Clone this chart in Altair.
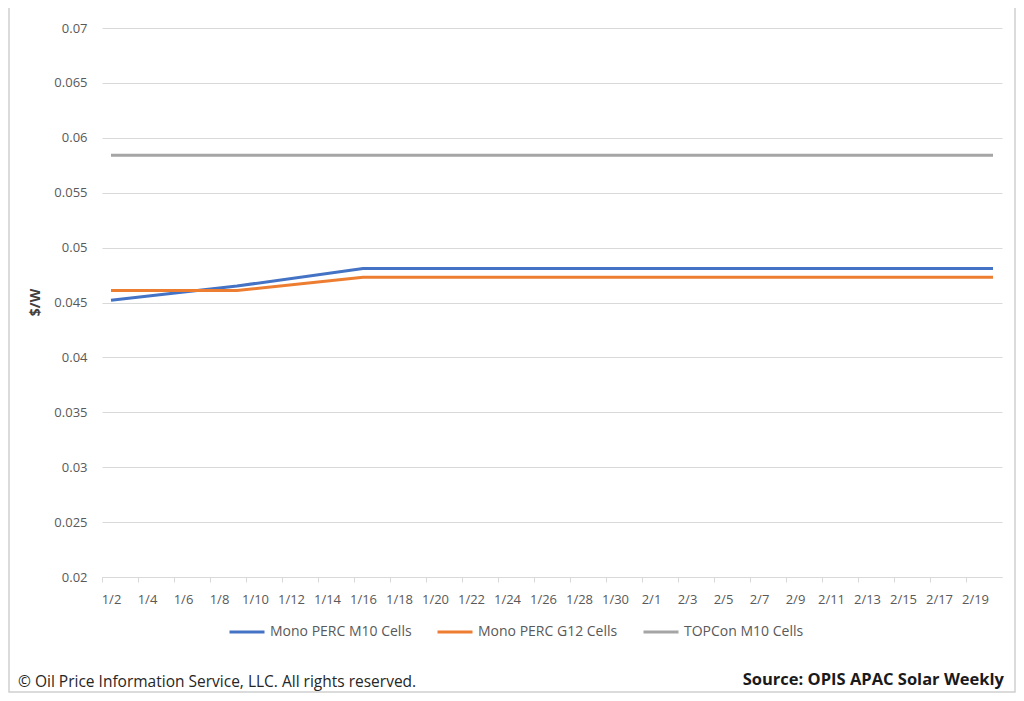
import altair as alt
import pandas as pd

# ---- data ----
weeks = ["1/2", "1/9", "1/16", "1/23", "1/30", "2/6", "2/13", "2/20"]
mono_perc_m10 = [0.0452, 0.0465, 0.0481, 0.0481, 0.0481, 0.0481, 0.0481, 0.0481]
mono_perc_g12 = [0.0461, 0.0461, 0.0473, 0.0473, 0.0473, 0.0473, 0.0473, 0.0473]
topcon_m10 = [0.0584, 0.0584, 0.0584, 0.0584, 0.0584, 0.0584, 0.0584, 0.0584]

series_names = ["Mono PERC M10 Cells", "Mono PERC G12 Cells", "TOPCon M10 Cells"]
series_colors = ["#4472C4", "#ED7D31", "#A5A5A5"]

# daily category axis 1/2 .. 2/20, labelled every other day
days = [f"{d.month}/{d.day}" for d in pd.date_range("2024-01-02", "2024-02-20")]
tick_labels = days[::2]
y_ticks = [0.02, 0.025, 0.03, 0.035, 0.04, 0.045, 0.05, 0.055, 0.06, 0.065, 0.07]

rows = []
for name, vals in zip(series_names, [mono_perc_m10, mono_perc_g12, topcon_m10]):
    for w, v in zip(weeks, vals):
        rows.append({"date": w, "value": v, "series": name})
df = pd.DataFrame(rows)

FONT = "Open Sans"
LABEL = "#595959"

lines = alt.Chart(df).mark_line(strokeWidth=3).encode(
    x=alt.X(
        "date:O",
        sort=days,
        scale=alt.Scale(domain=days, type="point", padding=0.5),
        axis=alt.Axis(
            values=tick_labels,
            title=None,
            labelAngle=0,
            tickOffset=-9,
            labelOffset=9,
            ticks=True,
            tickSize=5,
            tickColor="#D9D9D9",
            domainColor="#D9D9D9",
            labelPadding=11,
            labelFontSize=13,
            labelColor=LABEL,
            labelFont=FONT,
            grid=False,
        ),
    ),
    y=alt.Y(
        "value:Q",
        scale=alt.Scale(domain=[0.02, 0.07], nice=False, zero=False),
        axis=alt.Axis(
            values=y_ticks,
            format=".3~f",
            title="$/W",
            titleX=-67,
            titleY=274,
            titleAlign="center",
            titleBaseline="middle",
            titleFontSize=14,
            titleFontWeight="bold",
            titleColor="#404040",
            titleFont=FONT,
            ticks=False,
            domain=False,
            labelPadding=15,
            labelFontSize=13,
            labelColor=LABEL,
            labelFont=FONT,
            gridColor="#D9D9D9",
            gridWidth=1,
        ),
    ),
    color=alt.Color(
        "series:N",
        scale=alt.Scale(domain=series_names, range=series_colors),
        legend=alt.Legend(
            title=None,
            orient="none",
            legendX=126,
            legendY=585,
            direction="horizontal",
            symbolType="stroke",
            symbolSize=1225,
            symbolStrokeWidth=3,
            labelFontSize=14,
            labelColor=LABEL,
            labelFont=FONT,
            labelOffset=4,
            columnPadding=19,
            padding=0,
        ),
    ),
)

note = alt.Chart(alt.Data(values=[{}])).mark_text(
    text="© Oil Price Information Service, LLC.  All rights reserved.",
    align="left", baseline="middle", fontSize=15.5, color="#262626", font=FONT,
).encode(x=alt.value(-84), y=alt.value(654))

source = alt.Chart(alt.Data(values=[{}])).mark_text(
    text="Source: OPIS APAC Solar Weekly",
    align="right", baseline="middle", fontSize=16.5, fontWeight="bold",
    color="#1a1a1a", font=FONT,
).encode(x=alt.value(902), y=alt.value(652))

frame = alt.Chart(alt.Data(values=[{}])).mark_rect(
    fillOpacity=0, stroke="#D0D0D0", strokeWidth=1.5
).encode(x=alt.value(-93), x2=alt.value(913), y=alt.value(-60), y2=alt.value(664))

chart = alt.layer(frame, lines, note, source).properties(
    width=900,
    height=549,
    background="white",
    view=alt.ViewBackground(stroke="transparent", strokeWidth=0),
    autosize=alt.AutoSizeParams(type="none"),
    padding={"left": 94, "top": 20, "right": 14, "bottom": 116},
).configure_view(stroke="transparent", strokeWidth=0)

chart.save("out.html", embed_options={"renderer": "svg", "actions": False})
